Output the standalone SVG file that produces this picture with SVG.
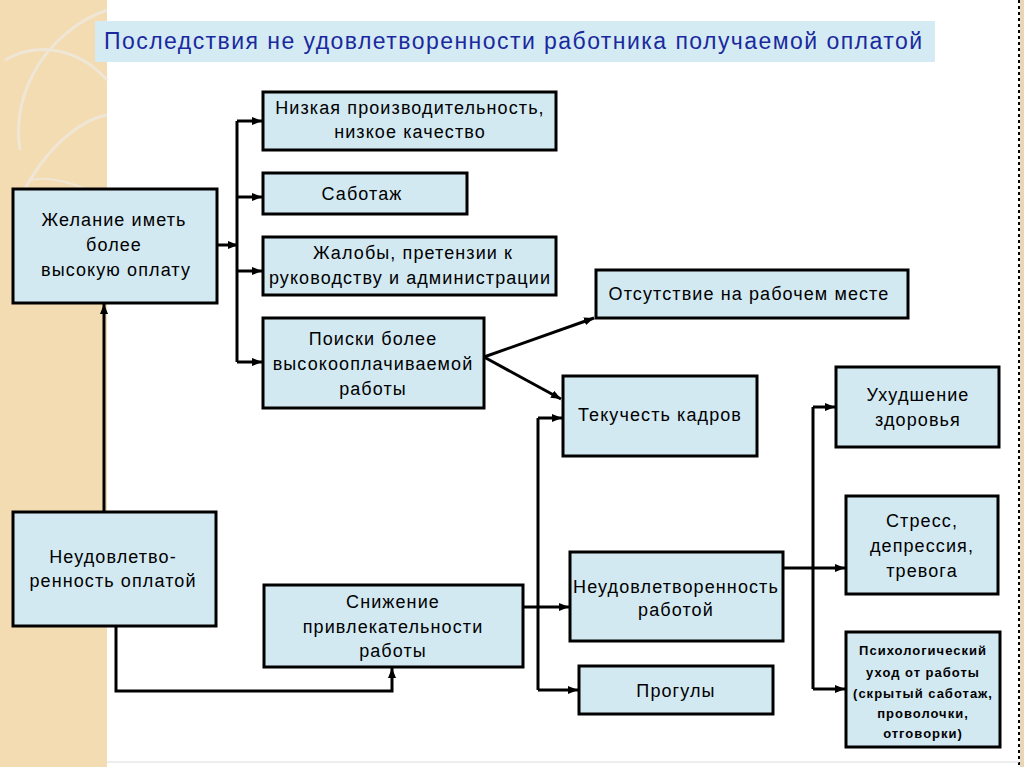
<svg xmlns="http://www.w3.org/2000/svg" width="1024" height="767" viewBox="0 0 1024 767">
<defs>
<marker id="ah" markerUnits="userSpaceOnUse" markerWidth="10" markerHeight="8" refX="10" refY="4" orient="auto">
<path d="M0,0 L10,4 L0,8 z" fill="#000"/>
</marker>
<style>
.box{fill:#d2e9f2;stroke:#000;stroke-width:3}
.t{font-family:"Liberation Sans",Arial,sans-serif;font-size:18px;fill:#000;text-anchor:middle;letter-spacing:1.1px}
.ts{font-family:"Liberation Sans",Arial,sans-serif;font-size:13px;font-weight:bold;fill:#000;text-anchor:middle;letter-spacing:1px}
.c{fill:none;stroke:#000;stroke-width:3}
.ca{fill:none;stroke:#000;stroke-width:3;marker-end:url(#ah)}
</style>
</defs>
<rect x="0" y="0" width="1024" height="767" fill="#ffffff"/>
<g id="background">
<rect x="0" y="0" width="107" height="767" fill="#f4dcb2"/>
<path d="M20,150 C10,90 50,30 107,10" fill="none" stroke="#efe6d6" stroke-width="3"/>
<path d="M5,60 C40,40 80,50 107,80" fill="none" stroke="#efe6d6" stroke-width="3"/>
<path d="M15,210 C40,150 80,120 107,115" fill="none" stroke="#efe6d6" stroke-width="3"/>
<path d="M30,180 C60,175 90,190 107,200" fill="none" stroke="#efe6d6" stroke-width="2"/>
<rect x="1020" y="0" width="4" height="767" fill="#e8d6b8"/>
<line x1="1019" y1="0" x2="1019" y2="767" stroke="#000" stroke-width="2" stroke-dasharray="3,3"/>
<line x1="107" y1="762" x2="1019" y2="762" stroke="#dddddd" stroke-width="1"/>
<rect x="95" y="21" width="840" height="41" fill="#d5ebf4"/>
<text x="104" y="49" font-family="'Liberation Sans',Arial,sans-serif" font-size="23" fill="#1a2a9e" textLength="818" lengthAdjust="spacing">Последствия не удовлетворенности работника получаемой оплатой</text>
</g>
<g id="connectors">
<path class="ca" d="M217,245 H238"/>
<path class="c" d="M237,121 V362"/>
<path class="ca" d="M237,121 H262"/>
<path class="ca" d="M237,197 H262"/>
<path class="ca" d="M237,271 H262"/>
<path class="ca" d="M237,362 H262"/>
<path class="ca" d="M104,512 V304"/>
<path class="ca" d="M116,626 V691 H392 V668"/>
<path class="ca" d="M484,357 L594,318"/>
<path class="ca" d="M484,357 L561,399"/>
<path class="ca" d="M523,607 H569"/>
<path class="c" d="M538,418 V690"/>
<path class="ca" d="M538,418 H562"/>
<path class="ca" d="M538,690 H578"/>
<path class="ca" d="M783,568 H845"/>
<path class="c" d="M813,407 V689"/>
<path class="ca" d="M813,407 H835"/>
<path class="ca" d="M813,689 H845"/>
</g>
<g id="n-nizkaya"><rect class="box" x="263" y="92" width="293" height="58"/><text class="t" x="410" y="114">Низкая производительность,</text><text class="t" x="410" y="138">низкое качество</text></g>
<g id="n-sabotazh"><rect class="box" x="263" y="173" width="204" height="41"/><text class="t" x="362" y="200">Саботаж</text></g>
<g id="n-zhaloby"><rect class="box" x="263" y="237" width="293" height="58"/><text class="t" x="413" y="259">Жалобы, претензии к</text><text class="t" x="410" y="284">руководству и администрации</text></g>
<g id="n-poiski"><rect class="box" x="263" y="318" width="221" height="90"/><text class="t" x="373" y="345">Поиски более</text><text class="t" x="373" y="370">высокооплачиваемой</text><text class="t" x="373" y="395">работы</text></g>
<g id="n-zhelanie"><rect class="box" x="13" y="189" width="204" height="114"/><text class="t" x="114" y="226">Желание иметь</text><text class="t" x="114" y="251">более</text><text class="t" x="116" y="276">высокую оплату</text></g>
<g id="n-otsutstvie"><rect class="box" x="596" y="270" width="312" height="48"/><text class="t" x="749" y="300">Отсутствие на рабочем месте</text></g>
<g id="n-tekuchest"><rect class="box" x="563" y="376" width="194" height="80"/><text class="t" x="660" y="421">Текучесть кадров</text></g>
<g id="n-uhudshenie"><rect class="box" x="836" y="367" width="163" height="80"/><text class="t" x="918" y="401">Ухудшение</text><text class="t" x="918" y="426">здоровья</text></g>
<g id="n-stress"><rect class="box" x="846" y="496" width="152" height="98"/><text class="t" x="922" y="527">Стресс,</text><text class="t" x="922" y="552">депрессия,</text><text class="t" x="922" y="577">тревога</text></g>
<g id="n-psih"><rect class="box" x="846" y="632" width="154" height="115"/><text class="ts" x="923" y="655">Психологический</text><text class="ts" x="923" y="677">уход от работы</text><text class="ts" x="923" y="698">(скрытый саботаж,</text><text class="ts" x="923" y="718">проволочки,</text><text class="ts" x="923" y="738">отговорки)</text></g>
<g id="n-neud-rab"><rect class="box" x="570" y="552" width="213" height="89"/><text class="t" x="676" y="593">Неудовлетворенность</text><text class="t" x="676" y="616">работой</text></g>
<g id="n-progul"><rect class="box" x="579" y="666" width="194" height="48"/><text class="t" x="676" y="697">Прогулы</text></g>
<g id="n-snizhenie"><rect class="box" x="264" y="585" width="259" height="82"/><text class="t" x="393" y="608">Снижение</text><text class="t" x="393" y="633">привлекательности</text><text class="t" x="393" y="657">работы</text></g>
<g id="n-neud-opl"><rect class="box" x="13" y="512" width="203" height="114"/><text class="t" x="113" y="563">Неудовлетво-</text><text class="t" x="113" y="587">ренность оплатой</text></g>
</svg>
